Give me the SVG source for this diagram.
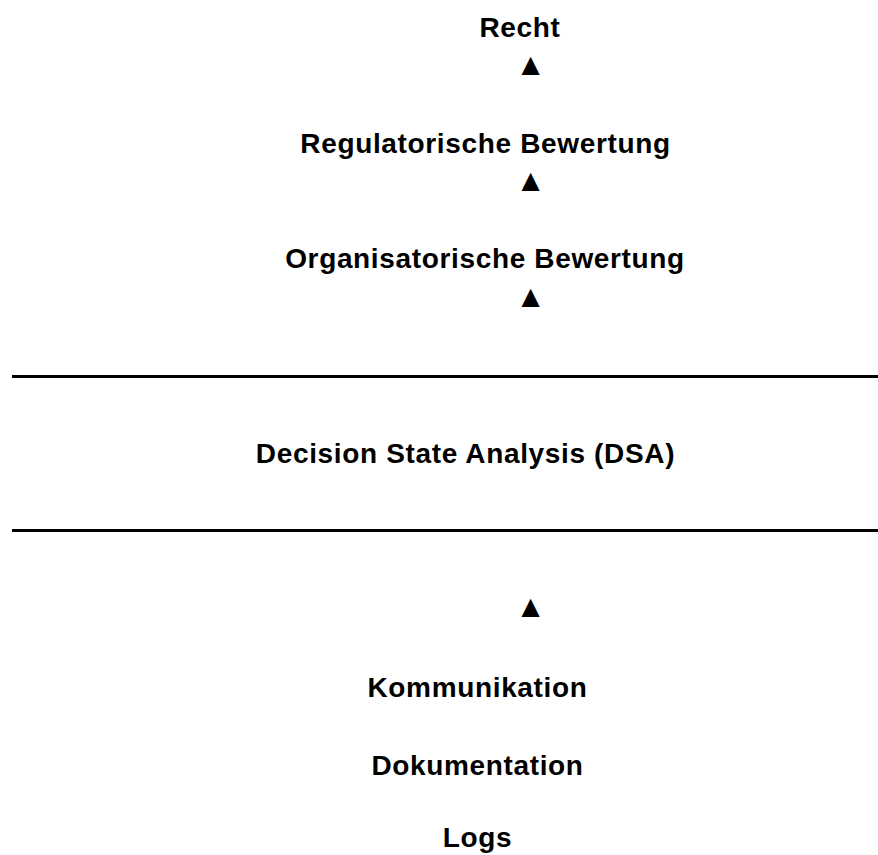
<svg xmlns="http://www.w3.org/2000/svg" width="878" height="855" viewBox="0 0 878 855">
<style>
.t{font-family:"Liberation Sans",Arial,sans-serif;font-weight:bold;font-size:28px;letter-spacing:0.65px;fill:#000;text-anchor:middle}
.a{font-family:"Liberation Sans",Arial,sans-serif;font-size:31px;fill:#000;text-anchor:middle}
.sep{stroke:#000;stroke-width:3}
</style>
<rect width="878" height="855" fill="#fff"/>
<g id="recht"><text class="t" x="520" y="37">Recht</text></g>
<g id="regulatorisch"><text class="t" x="485.5" y="153">Regulatorische Bewertung</text></g>
<g id="organisatorisch"><text class="t" x="485" y="268">Organisatorische Bewertung</text></g>
<g id="dsa"><text class="t" x="465.5" y="463">Decision State Analysis (DSA)</text></g>
<g id="kommunikation"><text class="t" x="477.5" y="697">Kommunikation</text></g>
<g id="dokumentation"><text class="t" x="477.5" y="775">Dokumentation</text></g>
<g id="logs"><text class="t" x="477.5" y="847">Logs</text></g>
<g id="connectors">
<line class="sep" x1="12" y1="376.5" x2="878" y2="376.5"/>
<line class="sep" x1="12" y1="530.5" x2="878" y2="530.5"/>
<text class="a" x="530.5" y="75">▲</text>
<text class="a" x="530.5" y="191">▲</text>
<text class="a" x="530.5" y="307">▲</text>
<text class="a" x="530.5" y="617">▲</text>
</g>
</svg>
